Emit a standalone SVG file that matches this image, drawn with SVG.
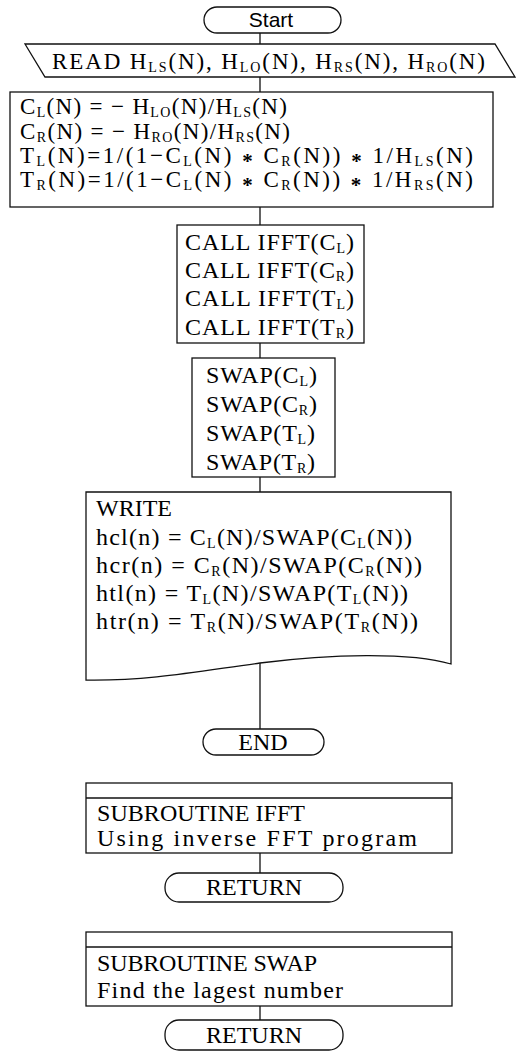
<svg xmlns="http://www.w3.org/2000/svg" width="522" height="1053" viewBox="0 0 522 1053">
<style>
.s{fill:none;stroke:#111;stroke-width:1.3}
.b{fill:#fff;stroke:#111;stroke-width:1.3}
.t{font-family:"Liberation Serif","Times New Roman",serif;font-size:24px;fill:#000}
.p{font-size:23px}
.ts{font-family:"Liberation Sans",Arial,sans-serif;font-size:21px;fill:#000}
.c{text-anchor:middle}
.u{font-size:14px}
.a{font-weight:bold;font-size:21px}
</style>
<rect width="522" height="1053" fill="#fff"/>
<g id="connectors">
<path class="s" d="M260,33V44M260,77V92M260,207V225M260,343V358M260,477V492M260,663V729M260,853V873M260,1006V1020"/>
</g>
<g id="start">
<rect class="b" x="204" y="7" width="137" height="26" rx="13"/>
<text class="ts c" x="271" y="27">Start</text>
</g>
<g id="read">
<polygon class="b" points="25,44 495,44 515,77 45,77"/>
<text class="t p" x="52" y="69" textLength="433" lengthAdjust="spacing">READ H<tspan class="u" dy="3">LS</tspan><tspan dy="-3">(N), H</tspan><tspan class="u" dy="3">LO</tspan><tspan dy="-3">(N), H</tspan><tspan class="u" dy="3">RS</tspan><tspan dy="-3">(N), H</tspan><tspan class="u" dy="3">RO</tspan><tspan dy="-3">(N)</tspan></text>
</g>
<g id="compute">
<rect class="b" x="10" y="92" width="483" height="115"/>
<text class="t p" x="20" y="114" textLength="267" lengthAdjust="spacing">C<tspan class="u" dy="3">L</tspan><tspan dy="-3">(N) = − H</tspan><tspan class="u" dy="3">LO</tspan><tspan dy="-3">(N)/H</tspan><tspan class="u" dy="3">LS</tspan><tspan dy="-3">(N)</tspan></text>
<text class="t p" x="20" y="139" textLength="270" lengthAdjust="spacing">C<tspan class="u" dy="3">R</tspan><tspan dy="-3">(N) = − H</tspan><tspan class="u" dy="3">RO</tspan><tspan dy="-3">(N)/H</tspan><tspan class="u" dy="3">RS</tspan><tspan dy="-3">(N)</tspan></text>
<text class="t p" x="20" y="163" textLength="453" lengthAdjust="spacing">T<tspan class="u" dy="3">L</tspan><tspan dy="-3">(N)=1/(1−C</tspan><tspan class="u" dy="3">L</tspan><tspan dy="-3">(N) </tspan><tspan class="a" dy="5">*</tspan><tspan dy="-5"> C</tspan><tspan class="u" dy="3">R</tspan><tspan dy="-3">(N)) </tspan><tspan class="a" dy="5">*</tspan><tspan dy="-5"> 1/H</tspan><tspan class="u" dy="3">LS</tspan><tspan dy="-3">(N)</tspan></text>
<text class="t p" x="20" y="187" textLength="453" lengthAdjust="spacing">T<tspan class="u" dy="3">R</tspan><tspan dy="-3">(N)=1/(1−C</tspan><tspan class="u" dy="3">L</tspan><tspan dy="-3">(N) </tspan><tspan class="a" dy="5">*</tspan><tspan dy="-5"> C</tspan><tspan class="u" dy="3">R</tspan><tspan dy="-3">(N)) </tspan><tspan class="a" dy="5">*</tspan><tspan dy="-5"> 1/H</tspan><tspan class="u" dy="3">RS</tspan><tspan dy="-3">(N)</tspan></text>
</g>
<g id="call">
<rect class="b" x="177" y="225" width="187" height="118"/>
<text class="t" x="185" y="250" textLength="169" lengthAdjust="spacing">CALL IFFT(C<tspan class="u" dy="3">L</tspan><tspan dy="-3">)</tspan></text>
<text class="t" x="185" y="278" textLength="169" lengthAdjust="spacing">CALL IFFT(C<tspan class="u" dy="3">R</tspan><tspan dy="-3">)</tspan></text>
<text class="t" x="185" y="306" textLength="169" lengthAdjust="spacing">CALL IFFT(T<tspan class="u" dy="3">L</tspan><tspan dy="-3">)</tspan></text>
<text class="t" x="185" y="335" textLength="169" lengthAdjust="spacing">CALL IFFT(T<tspan class="u" dy="3">R</tspan><tspan dy="-3">)</tspan></text>
</g>
<g id="swap">
<rect class="b" x="192" y="358" width="143" height="119"/>
<text class="t" x="206" y="383" textLength="111" lengthAdjust="spacing">SWAP(C<tspan class="u" dy="3">L</tspan><tspan dy="-3">)</tspan></text>
<text class="t" x="206" y="412" textLength="111" lengthAdjust="spacing">SWAP(C<tspan class="u" dy="3">R</tspan><tspan dy="-3">)</tspan></text>
<text class="t" x="206" y="441" textLength="109" lengthAdjust="spacing">SWAP(T<tspan class="u" dy="3">L</tspan><tspan dy="-3">)</tspan></text>
<text class="t" x="206" y="470" textLength="109" lengthAdjust="spacing">SWAP(T<tspan class="u" dy="3">R</tspan><tspan dy="-3">)</tspan></text>
</g>
<g id="write">
<path class="b" d="M86,492H451V664C410,652 330,654 260,663C200,671 150,681 86,680Z"/>
<text class="t" x="96" y="516">WRITE</text>
<text class="t" x="96" y="545" textLength="316" lengthAdjust="spacing">hcl(n) = C<tspan class="u" dy="3">L</tspan><tspan dy="-3">(N)/SWAP(C</tspan><tspan class="u" dy="3">L</tspan><tspan dy="-3">(N))</tspan></text>
<text class="t" x="96" y="573" textLength="326" lengthAdjust="spacing">hcr(n) = C<tspan class="u" dy="3">R</tspan><tspan dy="-3">(N)/SWAP(C</tspan><tspan class="u" dy="3">R</tspan><tspan dy="-3">(N))</tspan></text>
<text class="t" x="96" y="601" textLength="312" lengthAdjust="spacing">htl(n) = T<tspan class="u" dy="3">L</tspan><tspan dy="-3">(N)/SWAP(T</tspan><tspan class="u" dy="3">L</tspan><tspan dy="-3">(N))</tspan></text>
<text class="t" x="96" y="629" textLength="322" lengthAdjust="spacing">htr(n) = T<tspan class="u" dy="3">R</tspan><tspan dy="-3">(N)/SWAP(T</tspan><tspan class="u" dy="3">R</tspan><tspan dy="-3">(N))</tspan></text>
</g>
<g id="end">
<rect class="b" x="203" y="729" width="121" height="26" rx="13"/>
<text class="t c" x="263" y="750">END</text>
</g>
<g id="sub-ifft">
<rect class="b" x="86" y="783" width="366" height="70"/>
<path class="s" d="M86,798H452"/>
<text class="t" x="97" y="821" textLength="208" lengthAdjust="spacing">SUBROUTINE IFFT</text>
<text class="t" x="97" y="846" textLength="320" lengthAdjust="spacing">Using inverse FFT program</text>
</g>
<g id="return-ifft">
<rect class="b" x="165" y="873" width="178" height="29" rx="14"/>
<text class="t c" x="254" y="895">RETURN</text>
</g>
<g id="sub-swap">
<rect class="b" x="86" y="932" width="366" height="74"/>
<path class="s" d="M86,947H452"/>
<text class="t" x="97" y="971" textLength="220" lengthAdjust="spacing">SUBROUTINE SWAP</text>
<text class="t" x="97" y="998" textLength="246" lengthAdjust="spacing">Find the lagest number</text>
</g>
<g id="return-swap">
<rect class="b" x="165" y="1020" width="178" height="30" rx="14"/>
<text class="t c" x="254" y="1043">RETURN</text>
</g>
</svg>
